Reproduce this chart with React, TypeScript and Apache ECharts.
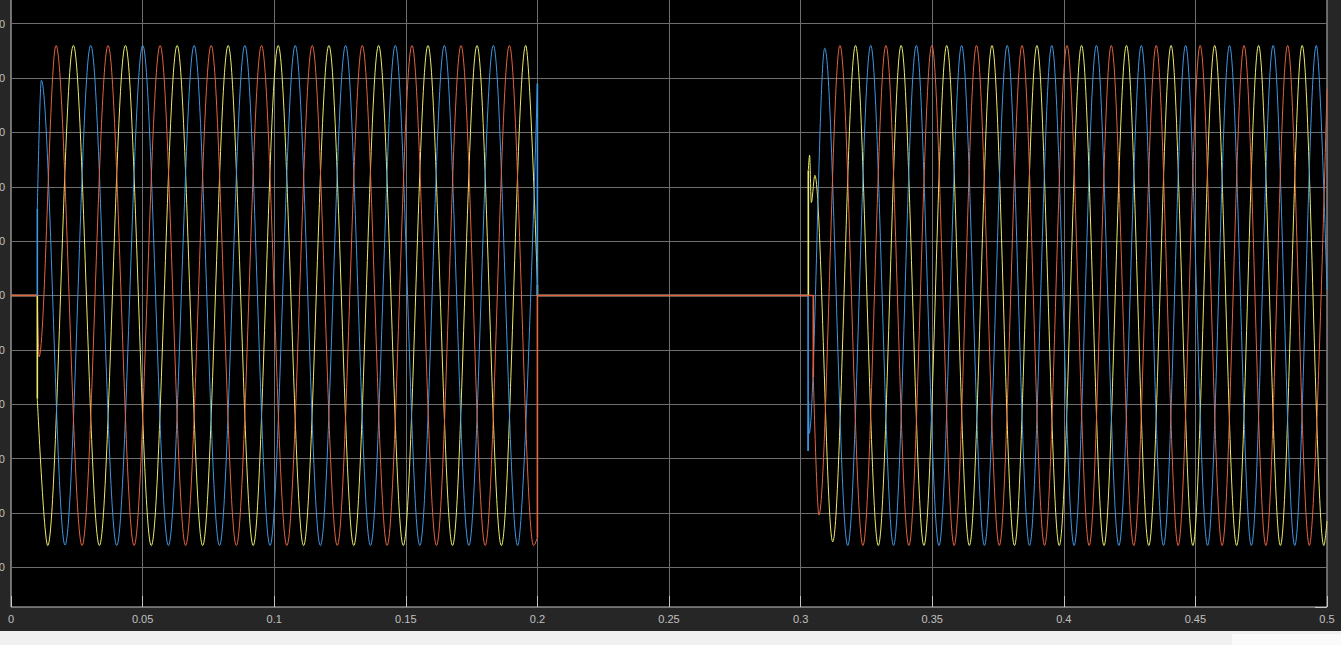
import React, { useEffect, useRef } from "react";
import * as echarts from "echarts";

// ---- axis ticks ----
const X_TICK_LABELS = ["0", "0.05", "0.1", "0.15", "0.2", "0.25", "0.3", "0.35", "0.4", "0.45", "0.5"];
const Y_TICKS = [-500, -400, -300, -200, -100, 0, 100, 200, 300, 400, 500];
const Y_MIN = -573;
const Y_MAX = 545.4;

// ---- phase A (yellow): extrema ----
const YELLOW_OFF_1 = [[0, 0], [0.01, 0], [0.01, -190]];
const YELLOW_WAVE_1 = [
  [0.01, -190], [0.01395, -460], [0.0237, 460], [0.03359, -460], [0.04347, 460], [0.0533, -460],
  [0.06312, 460], [0.07282, -460], [0.08251, 460], [0.09202, -460], [0.10152, 460], [0.11116, -460],
  [0.12079, 460], [0.13023, -460], [0.13967, 460], [0.14905, -460], [0.15843, 460], [0.16775, -460],
  [0.17706, 460], [0.18631, -460], [0.19556, 460], [0.2, 20],
];
const YELLOW_OFF_2 = [[0.2, 20], [0.2, 0], [0.30293, 0], [0.30293, 230]];
const YELLOW_WAVE_2 = [
  [0.30293, 230], [0.30342, 258], [0.30407, 171], [0.30543, 221], [0.3122, -453], [0.32086, 460],
  [0.32953, -460], [0.33819, 460], [0.34686, -460], [0.35552, 460], [0.36412, -460], [0.37272, 460],
  [0.38126, -460], [0.38979, 460], [0.39827, -460], [0.40674, 460], [0.41528, -460], [0.42381, 460],
  [0.43229, -460], [0.44076, 460], [0.44904, -460], [0.45732, 460], [0.46567, -460], [0.47401, 460],
  [0.48229, -460], [0.49056, 460], [0.4988, -460], [0.5, -415],
];

// ---- phase B (blue) ----
const BLUE_OFF_1 = [[0, 0], [0.01, 0], [0.01, 160]];
const BLUE_WAVE_1 = [
  [0.01, 160], [0.01152, 396], [0.02053, -459], [0.03029, 460], [0.04018, -460], [0.05006, 460],
  [0.05982, -460], [0.06958, 460], [0.07922, -460], [0.08885, 460], [0.09842, -460], [0.10798, 460],
  [0.11755, -460], [0.12712, 460], [0.13657, -460], [0.14601, 460], [0.15533, -460], [0.16464, 460],
  [0.17396, -460], [0.18327, 460], [0.1925, -460], [0.2, 390],
];
const BLUE_OFF_2 = [[0.2, 390], [0.2, 0], [0.30285, 0], [0.30285, -286]];
const BLUE_WAVE_2 = [
  [0.30285, -286], [0.30304, -195], [0.30323, -254], [0.30918, 455], [0.31791, -460], [0.32664, 460],
  [0.33531, -460], [0.34397, 460], [0.35257, -460], [0.36117, 460], [0.36984, -460], [0.3785, 460],
  [0.38697, -460], [0.39544, 460], [0.40392, -460], [0.41239, 460], [0.42093, -460], [0.42946, 460],
  [0.43787, -460], [0.44628, 460], [0.45463, -460], [0.46297, 460], [0.47125, -460], [0.47953, 460],
  [0.48775, -460], [0.49596, 460], [0.5, 10],
];

// ---- phase C (red) ----
const RED_OFF_1 = [[0, 0], [0.01, 0]];
const RED_WAVE_1 = [
  [0.01, 0], [0.01065, -113], [0.01711, 460], [0.027, -460], [0.03688, 460], [0.04677, -460],
  [0.05665, 460], [0.06635, -460], [0.07605, 460], [0.08562, -460], [0.09518, 460], [0.10482, -460],
  [0.11445, 460], [0.12396, -460], [0.13346, 460], [0.1429, -460], [0.15234, 460], [0.16166, -460],
  [0.17098, 460], [0.18017, -460], [0.18935, 460], [0.19855, -460], [0.2, -445],
];
const RED_OFF_2 = [[0.2, -445], [0.2, 0], [0.30483, 0], [0.30483, -150]];
const RED_WAVE_2 = [
  [0.30483, -150], [0.30696, -404], [0.31495, 460], [0.32368, -460], [0.33241, 460], [0.34114, -460],
  [0.34987, 460], [0.35835, -460], [0.36682, 460], [0.37549, -460], [0.38415, 460], [0.39269, -460],
  [0.40122, 460], [0.40963, -460], [0.41804, 460], [0.42658, -460], [0.43511, 460], [0.44346, -460],
  [0.4518, 460], [0.46015, -460], [0.46849, 460], [0.47677, -460], [0.48504, 460], [0.4933, -460],
  [0.5, 380],
];

const YELLOW = "#ecec6a";
const BLUE = "#3e96e2";
const RED = "#e3633f";

const GRID_COLOR = "#6e6e6e";
const AXIS_COLOR = "#c4c4c4";
const LABEL_COLOR = "#c0c0c0";
const FONT = "'Liberation Sans', Arial, Helvetica, sans-serif";

function wave(data: number[][], color: string) {
  return {
    type: "line",
    data,
    symbol: "none",
    showSymbol: false,
    smooth: 0.34,
    smoothMonotone: "x",
    silent: true,
    z: 10,
    lineStyle: { color, width: 1 },
    emphasis: { disabled: true },
  };
}

function straight(data: number[][], color: string, z: number) {
  return {
    type: "line",
    data,
    symbol: "none",
    showSymbol: false,
    smooth: false,
    silent: true,
    z,
    lineStyle: { color, width: 1.6 },
    emphasis: { disabled: true },
  };
}

export default function App() {
  const ref = useRef<HTMLDivElement>(null);

  useEffect(() => {
    if (!ref.current) return;
    const chart = echarts.init(ref.current, undefined, { renderer: "svg" });
    const yLabel = (v: number) => (Y_TICKS.indexOf(Math.round(v)) >= 0 ? String(Math.round(v)) : "");

    // horizontal grid lines, placed through the y axis scale, kept below the traces
    const gridHolder = {
      type: "line",
      data: [],
      symbol: "none",
      silent: true,
      z: 1,
      markLine: {
        z: 1,
        silent: true,
        symbol: "none",
        animation: false,
        label: { show: false },
        emphasis: { disabled: true },
        lineStyle: { color: GRID_COLOR, type: "solid", width: 1 },
        data: Y_TICKS.map((v) => ({ yAxis: v })),
      },
    };

    chart.setOption({
      animation: false,
      backgroundColor: "#262626",
      graphic: [
        { type: "rect", left: 0, top: 631, z: 0, shape: { x: 0, y: 0, width: 1341, height: 14 }, style: { fill: "#f0f0f0" }, silent: true },
        { type: "rect", left: 1232, top: 634, z: 0, shape: { x: 0, y: 0, width: 109, height: 11 }, style: { fill: "#fafafa" }, silent: true },
      ],
      grid: {
        left: 11,
        right: 14,
        top: -1,
        bottom: 38,
        z: 0,
        show: true,
        backgroundColor: "#000000",
        borderColor: AXIS_COLOR,
        borderWidth: 1,
        containLabel: false,
        outerBoundsMode: "none",
      },
      xAxis: {
        type: "value",
        position: "bottom",
        z: 0,
        min: 0,
        max: 0.5,
        interval: 0.05,
        axisLine: { show: false, onZero: false },
        axisTick: { show: true, inside: true, length: 11, lineStyle: { color: AXIS_COLOR } },
        splitLine: { show: true, lineStyle: { color: GRID_COLOR, width: 1 } },
        axisLabel: {
          color: LABEL_COLOR,
          fontSize: 11,
          fontFamily: FONT,
          margin: 6,
          formatter: (v: number) => X_TICK_LABELS[Math.round(v / 0.05)] ?? "",
        },
      },
      yAxis: [
        {
          type: "value",
          z: 0,
          min: Y_MIN,
          max: Y_MAX,
          splitNumber: 11,
          axisLine: { show: false, onZero: false },
          axisTick: { show: true, inside: true, length: 12, lineStyle: { color: AXIS_COLOR } },
          splitLine: { show: false },
          axisLabel: {
            color: LABEL_COLOR,
            fontSize: 11,
            fontFamily: FONT,
            margin: 6,
            showMinLabel: false,
            showMaxLabel: false,
            formatter: yLabel,
          },
        },
        {
          type: "value",
          position: "right",
          z: 0,
          min: Y_MIN,
          max: Y_MAX,
          splitNumber: 11,
          axisLine: { show: false, onZero: false },
          axisTick: { show: true, inside: true, length: 12, lineStyle: { color: AXIS_COLOR } },
          splitLine: { show: false },
          axisLabel: { show: false },
        },
      ],
      series: [
        gridHolder,
        straight(YELLOW_OFF_1, YELLOW, 11),
        straight(YELLOW_OFF_2, YELLOW, 11),
        straight(BLUE_OFF_1, BLUE, 12),
        straight(BLUE_OFF_2, BLUE, 12),
        straight(RED_OFF_1, RED, 13),
        straight(RED_OFF_2, RED, 13),
        wave(YELLOW_WAVE_1, YELLOW),
        wave(YELLOW_WAVE_2, YELLOW),
        wave(BLUE_WAVE_1, BLUE),
        wave(BLUE_WAVE_2, BLUE),
        wave(RED_WAVE_1, RED),
        wave(RED_WAVE_2, RED),
      ],
    });
    return () => chart.dispose();
  }, []);

  return (
    <div
      ref={ref}
      style={{ position: "fixed", left: 0, top: 0, width: 1341, height: 645 }}
    />
  );
}
